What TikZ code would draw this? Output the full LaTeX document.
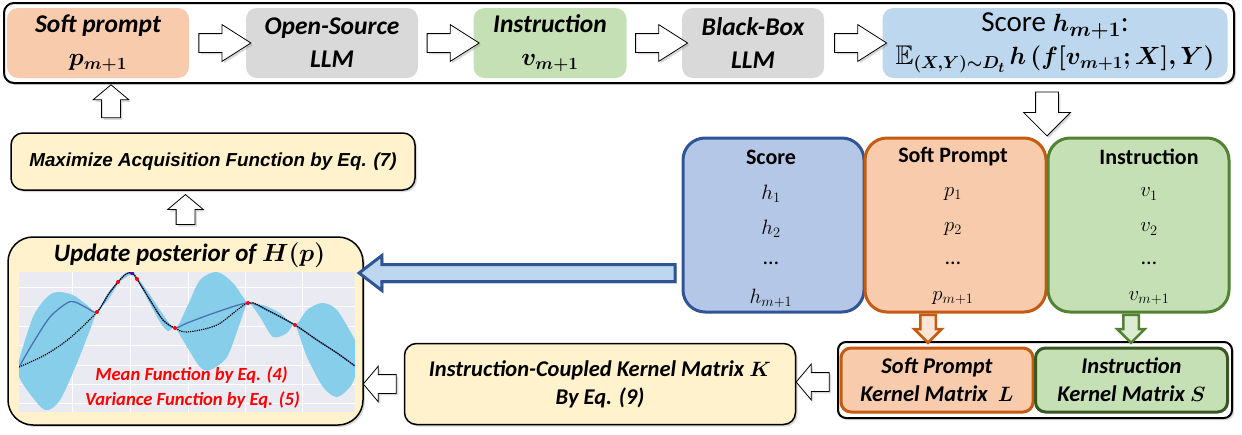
\documentclass[tikz,border=0pt]{standalone}
\usepackage{amsmath,amssymb,bm}
\usepackage{fontspec}
\setmainfont{Carlito}
\newfontfamily\arialfont{Liberation Sans}
\usetikzlibrary{shapes,arrows,shadows,calc}

\definecolor{softfill}{HTML}{F8CBAD}
\definecolor{softline}{HTML}{C55A11}
\definecolor{llmfill}{HTML}{D9D9D9}
\definecolor{insfill}{HTML}{C5E0B4}
\definecolor{insline}{HTML}{548235}
\definecolor{insdark}{HTML}{385723}
\definecolor{scorefill}{HTML}{BDD7EE}
\definecolor{tabfill}{HTML}{B4C7E7}
\definecolor{tabline}{HTML}{2F5597}
\definecolor{notefill}{HTML}{FFF2CC}
\definecolor{plotbg}{HTML}{EAEAF2}
\definecolor{bandfill}{HTML}{87CEEB}
\definecolor{meanline}{HTML}{4C72B0}

\begin{document}
\begin{tikzpicture}
    [x=1pt,y=-1pt,
shadowed/.style={drop shadow={shadow xshift=2pt,shadow yshift=-2pt,opacity=.3}},
topbox/.style={rounded corners=11pt,minimum height=70pt,align=center,inner sep=0pt,
  font=\fontsize{25.5}{33}\selectfont\bfseries\itshape},
tabbox/.style={rounded corners=22pt,line width=3pt,minimum width=181pt,minimum height=174pt},
notebox/.style={rounded corners=12pt,draw,line width=1.5pt,fill=notefill,align=center,shadowed},
kbox/.style={rounded corners=10pt,line width=3pt,minimum height=64pt,align=center,
  font=\fontsize{22.5}{28}\selectfont\bfseries\itshape},
harrow/.style={single arrow,draw,fill=white,line width=.8pt,inner sep=0pt,inner ysep=9pt,
  single arrow head extend=9pt,single arrow tip angle=65,minimum height=52pt,shadowed},
sarrow/.style={harrow,single arrow head extend=8.5pt,single arrow tip angle=100,minimum height=33pt},
carrow/.style={single arrow,line width=2.5pt,inner sep=0pt,inner ysep=6.5pt,
  single arrow head extend=6pt,single arrow tip angle=90,minimum height=28pt,rotate=-90},
tabhead/.style={font=\fontsize{22}{26}\selectfont\bfseries},
tabcell/.style={font=\fontsize{22}{26}\selectfont},
reddot/.style={circle,fill=red,inner sep=0pt,minimum size=4pt}
]
\useasboundingbox (0,0) rectangle (1242,434);

\node[draw,rounded corners=10pt,line width=2pt,minimum width=1230pt,minimum height=80pt,fill=white,shadowed] (frame) at (619,43) {};
\node[topbox,fill=softfill,minimum width=182pt] (soft) at (98,43) {Soft prompt\\$\bm{p_{m+1}}$};
\node[topbox,fill=llmfill,minimum width=172pt] (osllm) at (332,43) {Open-Source\\LLM};
\node[topbox,fill=insfill,minimum width=153pt] (instr) at (550,43) {Instruction\\$\bm{v_{m+1}}$};
\node[topbox,fill=llmfill,minimum width=142pt] (bbllm) at (753,43) {Black-Box\\LLM};
\node[topbox,fill=scorefill,minimum width=345pt,font=\fontsize{27}{33}\selectfont] (score) at (1055,43)
  {{\fontsize{29}{33}\selectfont Score $\bm{h_{m+1}}$:}\\$\mathbb{E}_{\bm{(X,Y)\sim D_t}}\,\bm{h\,(f[v_{m+1};X],Y)}$};
\node[harrow] (a1) at ($(soft.east)!.5!(osllm.west)$) {};
\node[harrow] (a2) at ($(osllm.east)!.5!(instr.west)$) {};
\node[harrow] (a3) at ($(instr.east)!.5!(bbllm.west)$) {};
\node[harrow] (a4) at ($(bbllm.east)!.5!(score.west)$) {};

\node[notebox,minimum width=404pt,minimum height=57pt,font=\arialfont\fontsize{18.8}{22}\selectfont\bfseries\itshape]
  (acq) at (213,161.5) {Maximize Acquisition Function by Eq. (7)};
\node[notebox,rounded corners=25pt,minimum width=355pt,minimum height=188pt] (upd) at (185.5,331) {};
\node[font=\fontsize{25}{30}\selectfont\bfseries\itshape] (updtitle) at (189.5,255) {Update posterior of $\bm{H(p)}$};
\node[sarrow,rotate=90] (up1) at ([xshift=13pt]$(soft.south)!.5!(soft.south |- acq.north)$) {};
\node[sarrow,rotate=90,minimum height=30pt] (up2) at ($(upd.north |- acq.south)!.5!(upd.north)$) {};

\begin{scope}
\clip (19,272) rectangle (355,412);
\fill[plotbg] (19,272) rectangle (355,412);
\foreach \gx in {72,130,188,245,302} \draw[white,line width=.8pt] (\gx,272) -- (\gx,412);
\foreach \gy in {287,306,326,345,365,384,403} \draw[white,line width=.8pt] (19,\gy) -- (355,\gy);
\fill[bandfill] plot[smooth] coordinates {(19,360) (33,317) (47,297) (58,292) (73,295) (87,305) (97,312) (108,293)
  (118,281) (126,273) (132,271) (137,277) (148,292) (160,310) (175,328) (187,307) (200,280) (217,272) (233,283)
  (248,303) (263,305) (280,313) (295,325) (307,310) (322,303) (337,310) (355,340)}
  -- plot[smooth] coordinates {(355,377) (350,387) (337,397) (323,387) (307,357) (295,325) (287,333) (273,337)
  (260,317) (248,303) (240,323) (227,357) (210,370) (200,367) (187,347) (175,328) (168,331) (160,322) (148,300)
  (137,279) (132,275) (126,277) (118,284) (108,300) (97,312) (90,330) (77,363) (60,400) (45,410) (27,390) (19,377)} -- cycle;
\draw[meanline,line width=1.3pt] plot[smooth] coordinates {(19,367) (33,343) (50,317) (67,303) (75,302) (87,308)
  (97,312) (108,295) (118,282) (126,274) (132,273) (137,279) (150,300) (163,320) (175,328) (187,323) (217,312)
  (248,303) (267,310) (295,325) (317,340) (337,353) (355,366)};
\draw[black,densely dotted,line width=1.2pt] plot[smooth] coordinates {(19,367) (45,355) (70,338) (97,312) (108,295)
  (118,282) (126,274) (132,273) (137,279) (150,300) (163,320) (175,328) (187,332) (217,325) (248,303) (267,310)
  (295,325) (317,340) (337,353) (355,366)};
\foreach \p in {(97,312),(118,282),(137,279),(175,328),(248,303),(295,325)} \node[reddot] at \p {};
\node[reddot,fill=blue!70!red] at (132,273) {};
\end{scope}
\node[text=red,font=\fontsize{18.6}{22}\selectfont\bfseries\itshape] (mean) at (191.5,375) {Mean Function by Eq. (4)};
\node[text=red,font=\fontsize{18.6}{22}\selectfont\bfseries\itshape] (var) at (192.5,400) {Variance Function by Eq. (5)};

\node[tabbox,draw=tabline,fill=tabfill] (tscore) at (773.5,225) {};
\node[tabbox,draw=softline,fill=softfill] (tsoft) at (955.5,225) {};
\node[tabbox,draw=insline,fill=insfill] (tinstr) at (1138.5,225) {};
\foreach \x/\hd/\sym in {771/Score/h, 953/Soft Prompt/p, 1149/Instruction/v}{
  \node[tabhead] (\sym-hd) at (\x,157) {\hd};
  \node[tabcell] (\sym-1) at (\x,194) {$\sym_1$};
  \node[tabcell] (\sym-2) at (\x,229) {$\sym_2$};
  \node[tabcell] (\sym-3) at (\x,263) {\dots};
  \node[tabcell] (\sym-4) at (\x,298) {$\sym_{m+1}$};
}
\node[harrow,inner ysep=11pt,single arrow head extend=12pt,single arrow tip angle=90,minimum height=44pt,
  rotate=-90,anchor=tip] (down) at ($(tsoft.north east)!.5!(tinstr.north west)$) {};
\node[single arrow,draw=tabline,fill=scorefill,line width=3pt,inner sep=0pt,inner ysep=7pt,single arrow head extend=9pt,
  single arrow tip angle=75,minimum height=316pt,shape border rotate=180,shadowed]
  (back) at ($(upd.east |- 0,273)!.5!(tscore.west |- 0,273)$) {};

\node[draw,rounded corners=8pt,line width=2pt,minimum width=394pt,minimum height=76pt,fill=white,shadowed] (kernel) at (1035,380) {};
\node[kbox,draw=softline,fill=softfill,minimum width=192pt] (ksoft) at (937,380) {Soft Prompt\\Kernel Matrix~~$\bm{L}$};
\node[kbox,draw=insdark,fill=insfill,minimum width=192pt] (kinstr) at (1131.5,380) {Instruction\\Kernel Matrix $\bm{S}$};
\node[carrow,draw=softline,fill=softfill!50!white,anchor=tail] (sdown) at ([xshift=-27.5pt]tsoft.south) {};
\node[carrow,draw=insline,fill=insfill!60!white,anchor=tail] (idown) at ([xshift=-7.5pt]tinstr.south) {};

\node[notebox,minimum width=391pt,minimum height=81pt,font=\fontsize{22.5}{28}\selectfont\bfseries\itshape]
  (coupled) at (600,384) {Instruction-Coupled Kernel Matrix $\bm{K}$\\By Eq. (9)};
\node[sarrow,shape border rotate=180] (left1) at ($(coupled.east)!.5!(kernel.west)$) {};
\node[sarrow,shape border rotate=180] (left2) at ($(upd.east |- coupled.west)!.5!(coupled.west)$) {};
\end{tikzpicture}
\end{document}
